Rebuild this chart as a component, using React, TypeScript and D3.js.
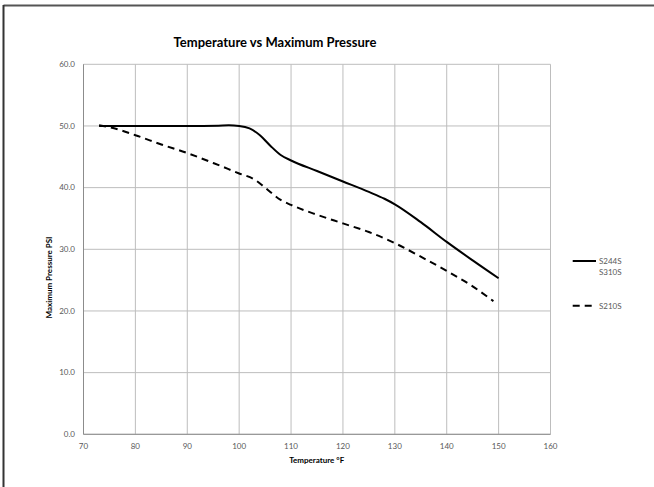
import React from 'react';
import * as d3 from 'd3';

// valeurs
const tempsA = [73, 75, 80, 90, 96, 98, 100, 102, 104, 106, 108, 110, 115, 120, 125, 128, 130, 135, 140, 145, 150];
const pressA = [50, 50, 50, 50, 50.05, 50.1, 50, 49.6, 48.5, 46.8, 45.3, 44.4, 42.7, 41, 39.3, 38.2, 37.3, 34.4, 31.2, 28.2, 25.3];

const tempsB = [73, 75, 80, 85, 90, 95, 100, 103, 105, 108, 110, 115, 120, 125, 130, 135, 140, 145, 149];
const pressB = [50.1, 49.8, 48.5, 47, 45.6, 44, 42.3, 41.3, 40, 38, 37.2, 35.6, 34.2, 32.8, 31, 28.8, 26.5, 24, 21.6];

const xTicks = [70, 80, 90, 100, 110, 120, 130, 140, 150, 160];
const yTicks = [0, 10, 20, 30, 40, 50, 60];

const seriesNames = ['S244S\nS310S', 'S210S'];

const font = 'Lato, "Open Sans", sans-serif';

const App = () => {
  const width = 654;
  const height = 487;

  const x = d3.scaleLinear().domain([70, 160]).range([83.5, 550.5]);
  const y = d3.scaleLinear().domain([0, 60]).range([434.3, 64.3]);

  const line = d3
    .line<[number, number]>()
    .x((d) => x(d[0]))
    .y((d) => y(d[1]))
    .curve(d3.curveMonotoneX);

  const dataA = tempsA.map((t, i) => [t, pressA[i]] as [number, number]);
  const dataB = tempsB.map((t, i) => [t, pressB[i]] as [number, number]);

  return (
    <div style={{ position: 'fixed', left: 0, top: 0 }}>
      <svg width={width} height={height} style={{ display: 'block', background: '#fff' }}>
        {/* cadre */}
        <line x1={3.5} y1={5.5} x2={width} y2={5.5} stroke="#555" strokeWidth={2} />
        <line x1={3.5} y1={5} x2={3.5} y2={height} stroke="#333" strokeWidth={2} />

        <text x={275} y={47} textAnchor="middle" fontFamily={font} fontWeight="bold" fontSize={13} fill="#000">
          Temperature vs Maximum Pressure
        </text>

        {/* grille */}
        {xTicks.map((t) => (
          <line key={'gx' + t} x1={x(t)} x2={x(t)} y1={y(60)} y2={y(0)} stroke="#bdbdbd" strokeWidth={1} />
        ))}
        {yTicks.map((t) => (
          <line key={'gy' + t} x1={x(70)} x2={x(160)} y1={y(t)} y2={y(t)} stroke="#bdbdbd" strokeWidth={1} />
        ))}
        <line x1={x(70)} x2={x(70)} y1={y(60)} y2={y(0)} stroke="#8c8c8c" strokeWidth={1} />
        <line x1={x(70)} x2={x(160)} y1={y(0)} y2={y(0)} stroke="#8c8c8c" strokeWidth={1} />

        {yTicks.map((t) => (
          <text key={'ly' + t} x={75} y={y(t)} dy="0.35em" textAnchor="end" fontFamily={font} fontSize={8} fill="#595959">
            {d3.format('.1f')(t)}
          </text>
        ))}
        {xTicks.map((t) => (
          <text key={'lx' + t} x={x(t)} y={446} dy="0.35em" textAnchor="middle" fontFamily={font} fontSize={8} fill="#595959">
            {t}
          </text>
        ))}

        <text x={316.7} y={460} dy="0.35em" textAnchor="middle" fontFamily={font} fontWeight="bold" fontSize={8} fill="#000">
          Temperature °F
        </text>
        <text
          transform="translate(49.5,277.5) rotate(-90)"
          dy="0.35em"
          textAnchor="middle"
          fontFamily={font}
          fontWeight="bold"
          fontSize={8}
          fill="#000"
        >
          Maximum Pressure PSI
        </text>

        <path d={line(dataB) || ''} fill="none" stroke="#000" strokeWidth={2} strokeDasharray="7,5" />
        <path d={line(dataA) || ''} fill="none" stroke="#000" strokeWidth={2} />

        {/* légende */}
        <line x1={572.7} x2={596} y1={261} y2={261} stroke="#000" strokeWidth={2} />
        <text fontFamily={font} fontSize={8} fill="#595959">
          {seriesNames[0].split('\n').map((s, i) => (
            <tspan key={s} x={599} y={264 + i * 11}>
              {s}
            </tspan>
          ))}
        </text>
        <line x1={572.7} x2={596} y1={305.7} y2={305.7} stroke="#000" strokeWidth={2} strokeDasharray="7,5" />
        <text x={599} y={305.7} dy="0.35em" fontFamily={font} fontSize={8} fill="#595959">
          {seriesNames[1]}
        </text>
      </svg>
    </div>
  );
};

export default App;
